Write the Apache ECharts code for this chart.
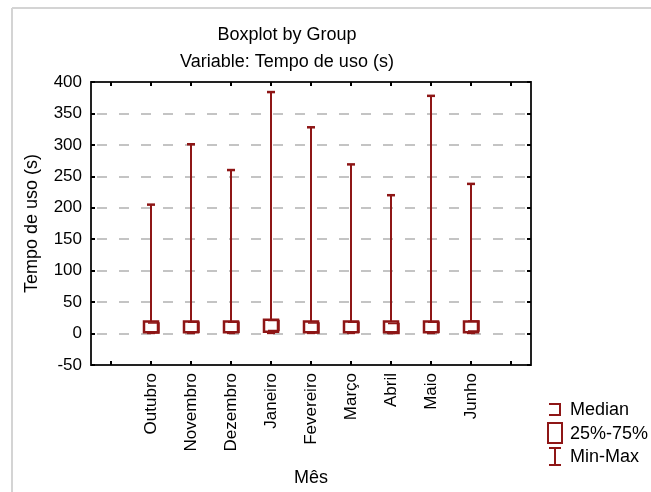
<!DOCTYPE html>
<html>
<head>
<meta charset="utf-8">
<script src="https://cdn.jsdelivr.net/npm/echarts@6/dist/echarts.min.js"></script>
<style>html,body{margin:0;padding:0;background:#fff;}#c{width:651px;height:492px;}</style>
</head>
<body>
<div id="c"></div>
<script>
// ---- data ----
var categories = ['', 'Outubro', 'Novembro', 'Dezembro', 'Janeiro', 'Fevereiro', 'Março', 'Abril', 'Maio', 'Junho', ''];
var months = ['Outubro', 'Novembro', 'Dezembro', 'Janeiro', 'Fevereiro', 'Março', 'Abril', 'Maio', 'Junho'];
var minValues    = [1, 1, 1, 1, 1, 1, 1, 1, 1];
var q1Values     = [2, 2, 2, 3, 2, 2, 2, 2, 2];
var medianValues = [9, 10, 10, 13, 9, 10, 8, 10, 12];
var q3Values     = [19, 19, 19, 22, 19, 19, 19, 19, 19];
var maxValues    = [205, 301, 260, 384, 328, 269, 220, 378, 238];
var yTicks = [-50, 0, 50, 100, 150, 200, 250, 300, 350, 400];

var RED = '#8E1616';
var FONT = '"Liberation Sans", Arial, sans-serif';

var boxData = months.map(function (m, i) {
  return [categories.indexOf(m), minValues[i], q1Values[i], medianValues[i], q3Values[i], maxValues[i]];
});

function renderBox(params, api) {
  var x = api.value(0);
  var pMin = api.coord([x, api.value(1)]);
  var pQ1 = api.coord([x, api.value(2)]);
  var pMed = api.coord([x, api.value(3)]);
  var pQ3 = api.coord([x, api.value(4)]);
  var pMax = api.coord([x, api.value(5)]);
  var cx = pMin[0];
  var bw = 7, cw = 4;
  var lineStyle = { stroke: RED, lineWidth: 2, fill: null };
  return {
    type: 'group',
    children: [
      { type: 'line', shape: { x1: cx, y1: pMax[1], x2: cx, y2: pMin[1] }, style: lineStyle },
      { type: 'line', shape: { x1: cx - cw, y1: pMax[1], x2: cx + cw, y2: pMax[1] }, style: { stroke: RED, lineWidth: 2.5 } },
      { type: 'line', shape: { x1: cx - cw, y1: pMin[1], x2: cx + cw, y2: pMin[1] }, style: { stroke: RED, lineWidth: 2.5 } },
      { type: 'rect', shape: { x: cx - bw, y: pQ3[1], width: bw * 2, height: pQ1[1] - pQ3[1] }, style: { stroke: RED, lineWidth: 2.5, fill: '#fff' } },
      { type: 'polyline', shape: { points: [[cx - 3, pMed[1] - 5], [cx + bw + 1, pMed[1] - 5], [cx + bw + 1, pMed[1] + 5], [cx - 3, pMed[1] + 5]] }, style: { stroke: RED, lineWidth: 1.5, fill: null } }
    ]
  };
}

var chart = echarts.init(document.getElementById('c'), null, { renderer: 'canvas' });
var axisTextStyle = { color: '#000', fontFamily: FONT, fontSize: 17 };

chart.setOption({
  backgroundColor: '#fff',
  animation: false,
  title: [
    { text: 'Boxplot by Group', left: 282, top: 21, textAlign: 'center',
      textStyle: { fontFamily: FONT, fontSize: 18, fontWeight: 'normal', color: '#000' } },
    { text: 'Variable: Tempo de uso (s)', left: 282, top: 48, textAlign: 'center',
      textStyle: { fontFamily: FONT, fontSize: 18, fontWeight: 'normal', color: '#000' } }
  ],
  grid: { left: 91, right: 120, top: 82, bottom: 126 },
  xAxis: [
    {
      type: 'category', data: categories, position: 'bottom', boundaryGap: true,
      name: 'Mês', nameLocation: 'middle', nameGap: 104,
      nameTextStyle: { color: '#000', fontFamily: FONT, fontSize: 18 },
      axisLine: { show: true, onZero: false, lineStyle: { color: '#222', width: 2 } },
      axisTick: { show: true, inside: true, alignWithLabel: true, interval: 0, length: 4, lineStyle: { color: '#000', width: 2 } },
      axisLabel: Object.assign({ rotate: 90, interval: 0, margin: 8 }, axisTextStyle),
      splitLine: { show: false }
    },
    {
      type: 'category', data: categories, position: 'top', boundaryGap: true,
      axisLine: { show: true, onZero: false, lineStyle: { color: '#222', width: 2 } },
      axisTick: { show: true, inside: true, alignWithLabel: true, interval: 0, length: 4, lineStyle: { color: '#000', width: 2 } },
      axisLabel: { show: false },
      splitLine: { show: false }
    }
  ],
  yAxis: [
    {
      type: 'value', min: yTicks[0], max: yTicks[yTicks.length - 1], interval: 50, position: 'left',
      name: 'Tempo de uso (s)', nameLocation: 'middle', nameGap: 50, nameRotate: 90,
      nameTextStyle: { color: '#000', fontFamily: FONT, fontSize: 18 },
      axisLine: { show: true, onZero: false, lineStyle: { color: '#222', width: 2 } },
      axisTick: { show: true, inside: true, length: 4, lineStyle: { color: '#000', width: 2 } },
      axisLabel: Object.assign({ margin: 9 }, axisTextStyle),
      splitLine: { show: true, showMinLine: false, showMaxLine: false, lineStyle: { color: '#c4c4c4', width: 2, type: [10, 12], dashOffset: 16 } }
    },
    {
      type: 'value', min: yTicks[0], max: yTicks[yTicks.length - 1], interval: 50, position: 'right',
      axisLine: { show: true, onZero: false, lineStyle: { color: '#222', width: 2 } },
      axisTick: { show: true, inside: true, length: 4, lineStyle: { color: '#000', width: 2 } },
      axisLabel: { show: false },
      splitLine: { show: false }
    }
  ],
  series: [{
    type: 'custom',
    xAxisIndex: 0, yAxisIndex: 0,
    renderItem: renderBox,
    encode: { x: 0, y: [1, 2, 3, 4, 5] },
    data: boxData,
    z: 5
  }],
  graphic: [
    { type: 'line', shape: { x1: 12, y1: 8, x2: 651, y2: 8 }, style: { stroke: '#d4d4d4', lineWidth: 2 } },
    { type: 'line', shape: { x1: 12, y1: 8, x2: 12, y2: 492 }, style: { stroke: '#d4d4d4', lineWidth: 2 } },
    // legend: Median
    { type: 'polyline', shape: { points: [[549, 404], [560, 404], [560, 415], [549, 415]] }, style: { stroke: RED, lineWidth: 2, fill: null } },
    { type: 'text', x: 570, y: 410, style: { text: 'Median', fontFamily: FONT, fontSize: 18, fill: '#000', verticalAlign: 'middle', textAlign: 'left' } },
    // legend: 25%-75%
    { type: 'rect', shape: { x: 548, y: 423, width: 14, height: 20 }, style: { stroke: RED, lineWidth: 2, fill: '#fff' } },
    { type: 'text', x: 570, y: 434, style: { text: '25%-75%', fontFamily: FONT, fontSize: 18, fill: '#000', verticalAlign: 'middle', textAlign: 'left' } },
    // legend: Min-Max
    { type: 'line', shape: { x1: 549, y1: 448, x2: 561, y2: 448 }, style: { stroke: RED, lineWidth: 2 } },
    { type: 'line', shape: { x1: 555, y1: 448, x2: 555, y2: 465 }, style: { stroke: RED, lineWidth: 2 } },
    { type: 'line', shape: { x1: 549, y1: 465, x2: 561, y2: 465 }, style: { stroke: RED, lineWidth: 2 } },
    { type: 'text', x: 570, y: 457, style: { text: 'Min-Max', fontFamily: FONT, fontSize: 18, fill: '#000', verticalAlign: 'middle', textAlign: 'left' } }
  ]
});
</script>
</body>
</html>
